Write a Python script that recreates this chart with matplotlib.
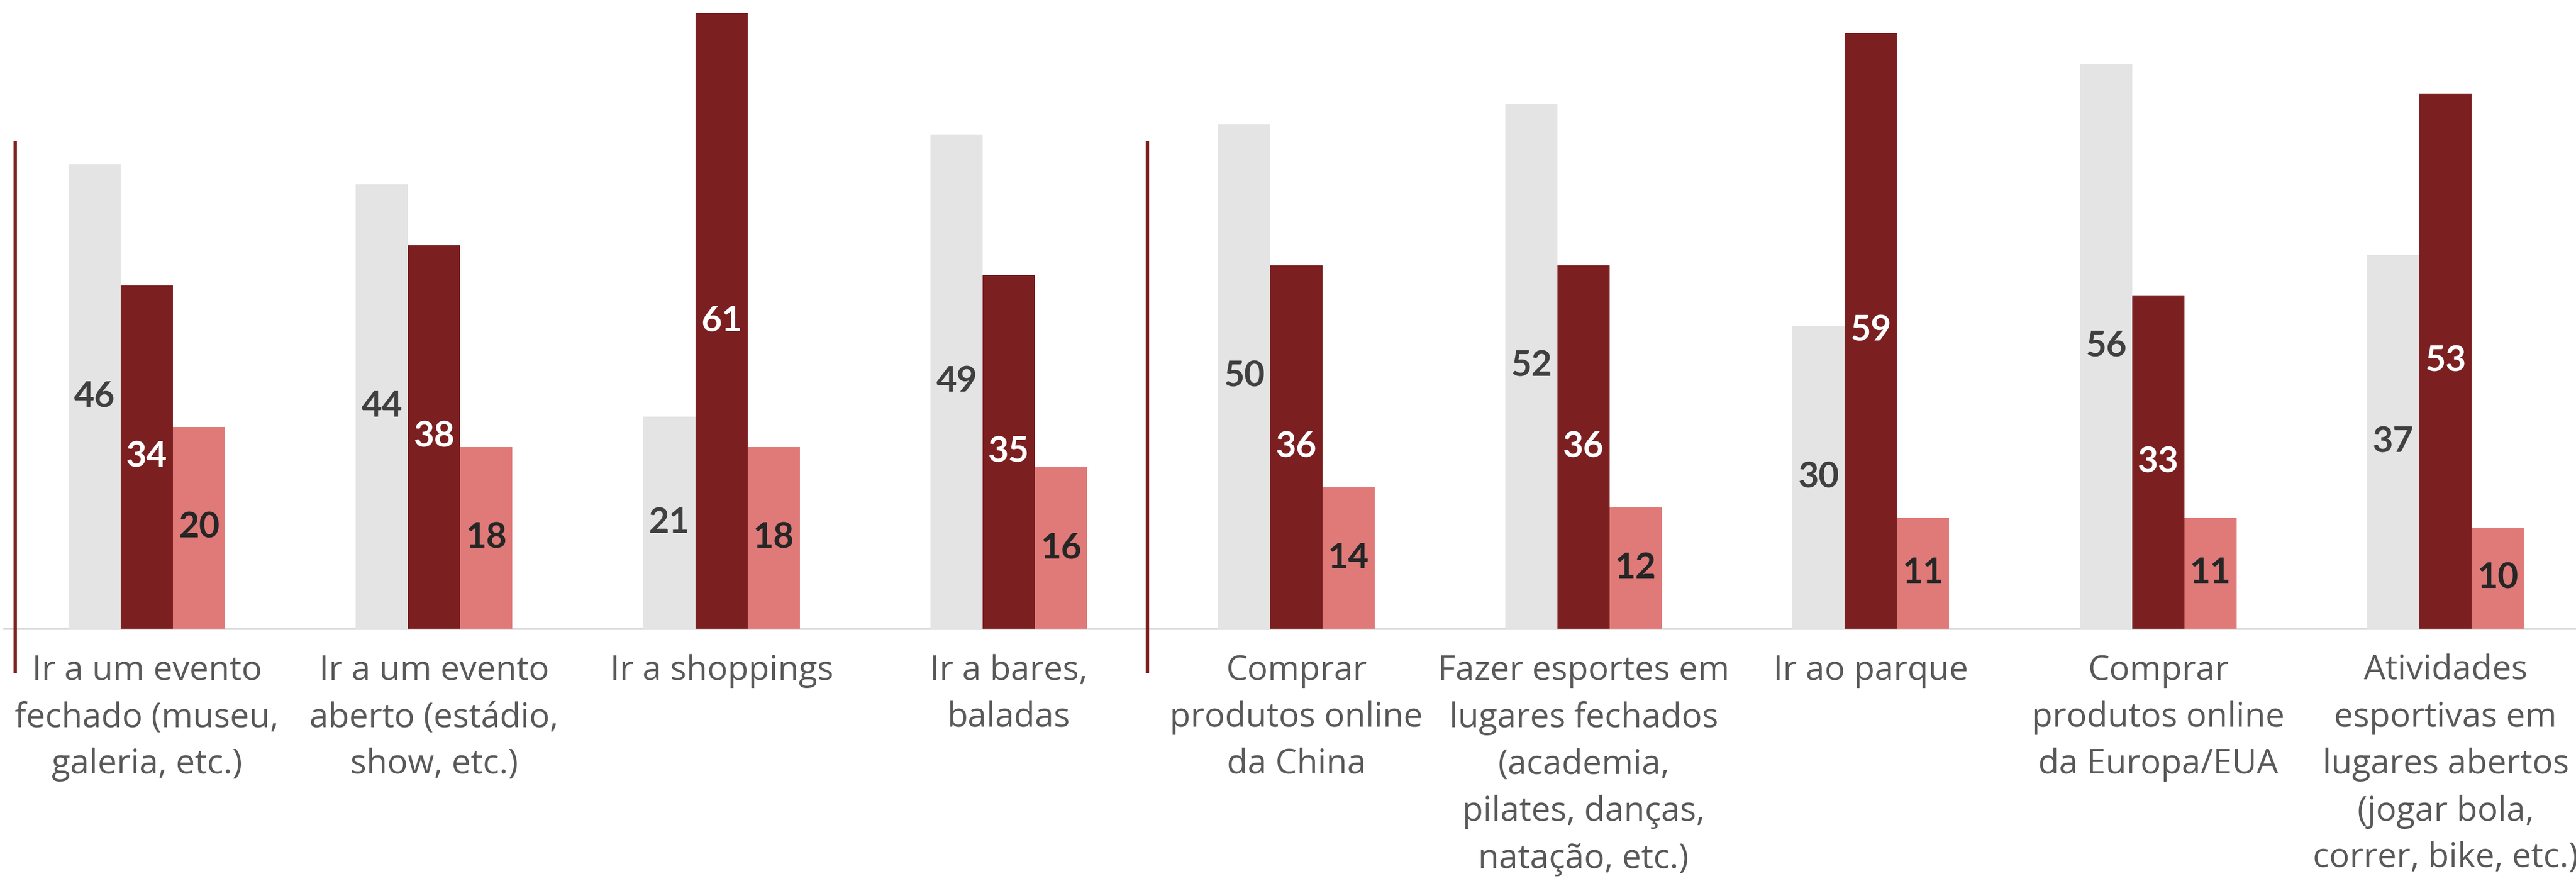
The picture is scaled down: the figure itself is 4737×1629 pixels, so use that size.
import numpy as np
import matplotlib.pyplot as plt

categories = [
    "Ir a um evento\nfechado (museu,\ngaleria, etc.)",
    "Ir a um evento\naberto (estádio,\nshow, etc.)",
    "Ir a shoppings",
    "Ir a bares,\nbaladas",
    "Comprar\nprodutos online\nda China",
    "Fazer esportes em\nlugares fechados\n(academia,\npilates, danças,\nnatação, etc.)",
    "Ir ao parque",
    "Comprar\nprodutos online\nda Europa/EUA",
    "Atividades\nesportivas em\nlugares abertos\n(jogar bola,\ncorrer, bike, etc.)",
]
serie_cinza = [46, 44, 21, 49, 50, 52, 30, 56, 37]
serie_escura = [34, 38, 61, 35, 36, 36, 59, 33, 53]
serie_rosa = [20, 18, 18, 16, 14, 12, 11, 11, 10]

cor_cinza = "#E4E4E4"
cor_escura = "#7B1F20"
cor_rosa = "#DF7A78"

plt.rcParams['font.family'] = ['Lato', 'DejaVu Sans']

fig = plt.figure(figsize=(47.37, 16.29), dpi=100)
ax = fig.add_axes([0, 0, 1, 1])

x = np.arange(len(categories))
w = 0.1817

ax.bar(x - w, serie_cinza, w, color=cor_cinza, zorder=2)
ax.bar(x, serie_escura, w, color=cor_escura, zorder=2)
ax.bar(x + w, serie_rosa, w, color=cor_rosa, zorder=2)

fs = 47
for i in range(len(categories)):
    ax.text(x[i] - w, serie_cinza[i] / 2, str(serie_cinza[i]), ha='center', va='center',
            fontsize=fs, fontweight='bold', color='#404040', zorder=3)
    ax.text(x[i], serie_escura[i] / 2, str(serie_escura[i]), ha='center', va='center',
            fontsize=fs, fontweight='bold', color='white', zorder=3)
    ax.text(x[i] + w, serie_rosa[i] / 2, str(serie_rosa[i]), ha='center', va='center',
            fontsize=fs, fontweight='bold', color='#262626', zorder=3)
    ax.text(x[i], -2.5, categories[i], ha='center', va='top', fontsize=45,
            color='#595959', linespacing=1.5, family=['Open Sans', 'DejaVu Sans'])

# linha de base
ax.plot([-0.5, 8.6], [0, 0], color='#D9D9D9', lw=3, zorder=1, solid_capstyle='butt')

# divisórias vermelhas
for xv in [-0.458, 3.482]:
    ax.plot([xv, xv], [-4.42, 48.3], color=cor_escura, lw=4.5, zorder=1, solid_capstyle='butt')

ax.set_xlim(-0.511, 8.454)
ax.set_ylim(-25.48, 62.28)
ax.axis('off')

fig.savefig('out.png', dpi=100, facecolor='white')
